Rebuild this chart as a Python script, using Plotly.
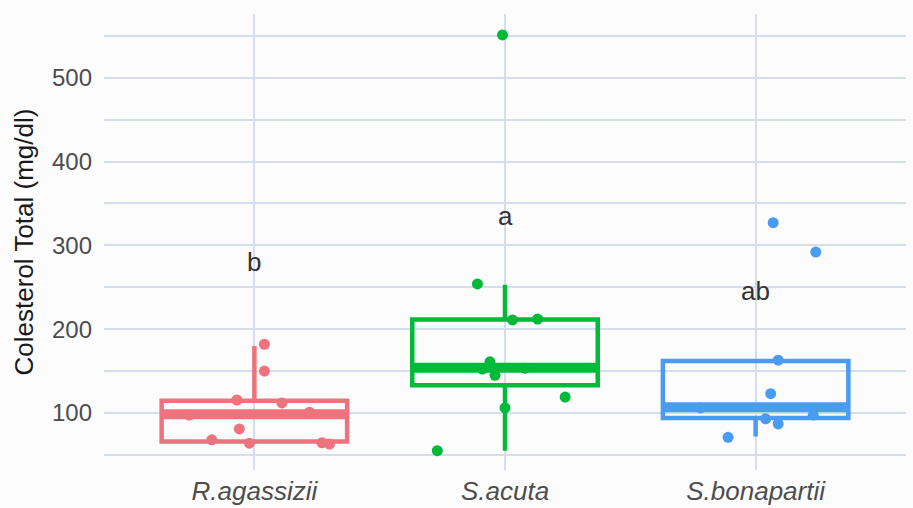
import plotly.graph_objects as go

species = ["R.agassizii", "S.acuta", "S.bonapartii"]
colors = ["#EE737D", "#00BA38", "#4A9BF2"]

# box statistics (mg/dl)
q1 = [66, 133, 94]
median = [98.5, 154, 107]
q3 = [114.5, 211.5, 162]
lower_whisker = [63, 55, 72]
upper_whisker = [180, 253, 162]

# individual observations
values_ra = [182, 150, 115.5, 112, 101, 97.5, 81, 68, 64, 64.5, 63]
values_sa = [551, 254, 211, 212, 161, 152.5, 145, 153.5, 119, 106, 55]
values_sb = [327, 292, 163, 123, 106, 93, 87, 97.5, 71]

# jitter offsets
jitter_ra = [0.04, 0.04, -0.07, 0.11, 0.22, -0.26, -0.06, -0.17, -0.02, 0.27, 0.30]
jitter_sa = [-0.01, -0.11, 0.03, 0.13, -0.06, -0.09, -0.04, 0.08, 0.24, 0.00, -0.27]
jitter_sb = [0.07, 0.24, 0.09, 0.06, -0.22, 0.04, 0.09, 0.23, -0.11]

# significance letters
letters = ["b", "a", "ab"]
letter_y = [280, 335, 246]

values = [values_ra, values_sa, values_sb]
jitters = [jitter_ra, jitter_sa, jitter_sb]

BOX_W = 0.74
BG = "#FCFCFC"
GRID = "#D5DEEA"

fig = go.Figure()

for i, name in enumerate(species):
    fig.add_trace(go.Box(
        x=[i], q1=[q1[i]], median=[median[i]], q3=[q3[i]],
        lowerfence=[lower_whisker[i]], upperfence=[upper_whisker[i]],
        width=BOX_W, boxpoints=False, whiskerwidth=0,
        line=dict(color=colors[i], width=4.5),
        fillcolor="rgba(0,0,0,0)",
        showlegend=False, hoverinfo="skip",
    ))
    # thick median segment
    fig.add_trace(go.Scatter(
        x=[i - BOX_W / 2, i + BOX_W / 2], y=[median[i], median[i]],
        mode="lines", line=dict(color=colors[i], width=10),
        showlegend=False, hoverinfo="skip",
    ))
    fig.add_trace(go.Scatter(
        x=[i + j for j in jitters[i]], y=values[i],
        mode="markers", marker=dict(color=colors[i], size=11),
        showlegend=False,
    ))

for i, t in enumerate(letters):
    fig.add_annotation(x=i, y=letter_y[i], text=t, showarrow=False,
                       font=dict(size=26, color="#333333",
                                 family="Liberation Sans, Arial, sans-serif"),
                       xanchor="center", yanchor="middle")

fig.update_layout(
    width=913, height=508,
    paper_bgcolor=BG, plot_bgcolor=BG,
    margin=dict(l=104, r=7, t=14, b=38),
    font=dict(family="Liberation Sans, Arial, sans-serif", color="#4D4D4D"),
    showlegend=False,
)

fig.update_xaxes(
    range=[-0.6, 2.6], automargin=False,
    tickmode="array", tickvals=[0, 1, 2],
    ticktext=["<i>%s</i>" % s for s in species],
    tickfont=dict(size=26, color="#4D4D4D"),
    showgrid=True, gridcolor=GRID, gridwidth=1.5,
    zeroline=False, showline=False, ticks="",
    ticklabelstandoff=3,
)

fig.update_yaxes(
    range=[32, 576], automargin=False,
    tickmode="array", tickvals=[100, 200, 300, 400, 500],
    tickfont=dict(size=24, color="#4D4D4D"),
    showgrid=True, gridcolor=GRID, gridwidth=1.5,
    minor=dict(tickmode="array", tickvals=[50, 150, 250, 350, 450, 550],
               showgrid=True, gridcolor=GRID, gridwidth=1.5, ticks=""),
    zeroline=False, showline=False, ticks="",
    ticklabelstandoff=11,
    title=dict(text="Colesterol Total (mg/dl)",
               font=dict(size=26, color="#1A1A1A"), standoff=10),
)

fig.write_html("out.html",
               config={"displayModeBar": False},
               post_script="document.body.style.margin='0';"
                           "document.body.style.background='%s';" % BG)
